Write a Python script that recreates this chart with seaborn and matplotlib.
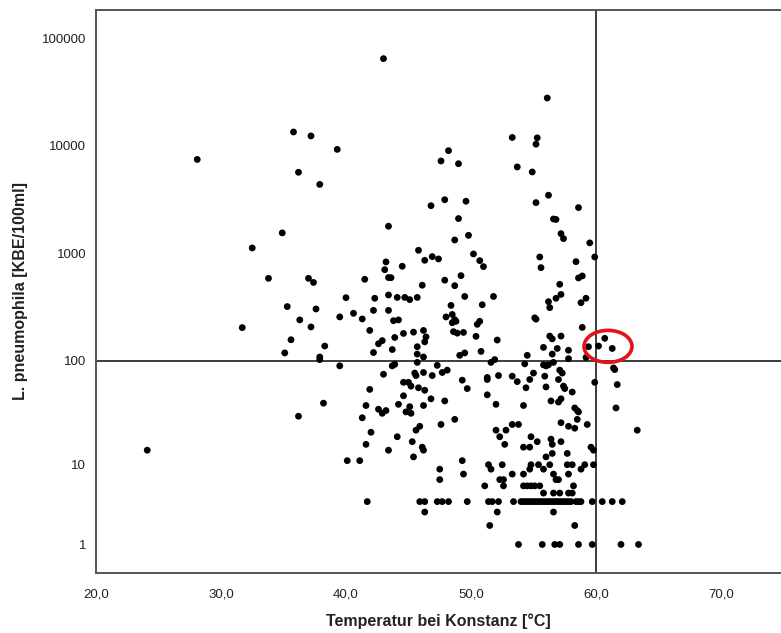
import numpy as np
import pandas as pd
import matplotlib.pyplot as plt
import seaborn as sns
from matplotlib.patches import Ellipse
from matplotlib.ticker import FuncFormatter

# ---------------------------------------------------------
# Daten: Temperatur [°C] und L. pneumophila [KBE/100ml]
# ---------------------------------------------------------

temp_high = [28.1, 35.8, 37.2, 39.3, 36.2, 37.9, 34.9, 32.5, 33.8, 37.0, 37.4, 40.0,
             43.0, 56.1, 53.3, 55.3, 55.2, 48.2, 47.6, 49.0, 53.7, 54.9, 56.2, 55.2,
             46.8, 47.9, 49.6, 58.6, 49.0, 56.6, 56.8, 43.4, 57.2, 57.4, 48.7, 49.8,
             59.5, 45.8, 50.2, 46.9, 47.4, 46.3, 43.2, 55.5, 59.9, 50.7, 51.0, 58.4,
             43.1, 44.5, 55.6, 43.4, 43.6, 41.5, 49.2, 47.9, 46.1, 48.7, 57.1, 58.6,
             58.9]
kbe_high = [7500, 13500, 12400, 9300, 5700, 4400, 1560, 1130, 590, 590, 540, 390,
            64700, 27900, 12000, 11900, 10400, 9050, 7260, 6850, 6390, 5740, 3490, 2980,
            2790, 3170, 3070, 2680, 2120, 2100, 2080, 1800, 1535, 1380, 1340, 1480,
            1260, 1075, 994, 939, 894, 868, 838, 932, 932, 862, 758, 843,
            710, 764, 742, 600, 598, 578, 625, 567, 509, 504, 519, 595,
            621]

temp_left = [35.3, 37.6, 36.3, 39.5, 31.7, 37.2, 35.6, 38.3, 35.1, 37.9, 37.9, 39.5,
             38.2, 36.2, 24.1]
kbe_left = [322, 306, 242, 258, 205, 208, 158, 138, 119, 109, 103, 90,
            40, 30, 14]

temp_40s = [42.3, 43.4, 44.1, 44.7, 45.1, 45.7, 40.6, 41.3, 42.2, 43.4, 43.8, 44.2,
            41.9, 42.9, 42.6, 43.9, 44.6, 45.4, 46.2, 46.4, 46.3, 43.7, 42.2, 45.7,
            45.7, 46.2, 45.7, 43.7, 43.9, 43.0, 45.5, 45.6, 46.2, 41.9, 44.6, 45.0,
            45.2, 45.8, 46.3, 46.8, 44.6, 41.6, 44.2, 45.1, 46.2, 42.6, 42.9, 43.2,
            44.8, 45.2, 41.3, 45.9, 45.6, 42.0, 44.1, 45.3, 41.6, 46.1, 46.2, 43.4,
            45.4, 40.1, 41.1, 41.7, 45.9, 46.3, 46.3]
kbe_40s = [385, 413, 392, 392, 374, 392, 279, 247, 297, 297, 238, 242,
           193, 155, 145, 166, 181, 186, 193, 168, 151, 128, 120, 136,
           116, 109, 97, 90, 93, 75, 77, 73, 78, 54, 63, 63,
           58, 56, 53, 44, 47, 38, 39, 37, 38, 35, 32, 34,
           33, 32, 29, 24, 22, 21, 19, 17, 16, 15, 14, 14,
           12, 11, 11, 4, 4, 4, 3]

temp_50 = [49.5, 51.8, 48.4, 50.9, 48.0, 48.5, 48.7, 48.8, 48.5, 50.5, 50.7, 48.6,
           48.9, 49.4, 50.4, 52.1, 49.1, 49.5, 50.8, 51.6, 51.9, 47.3, 46.9, 47.7,
           48.1, 51.3, 51.3, 52.2, 49.3, 49.7, 47.9, 51.3, 52.0, 48.7, 47.6, 52.0,
           52.8, 52.3, 52.7, 49.3, 47.5, 49.4, 47.5, 51.4, 51.6, 52.5, 52.3, 52.6,
           52.6, 51.1, 47.3, 47.7, 48.2, 49.7, 51.4, 51.7, 52.2, 52.1, 51.5]
kbe_50 = [400, 400, 330, 335, 258, 272, 243, 235, 228, 220, 235, 188,
          182, 185, 170, 157, 113, 119, 123, 97, 103, 91, 73, 78,
          82, 70, 67, 73, 66, 55, 42, 48, 39, 28, 25, 22,
          22, 19, 16, 11, 9, 8, 7, 10, 9, 10, 7, 7,
          6, 6, 4, 4, 4, 4, 4, 4, 4, 3, 2]

temp_55 = [57.2, 56.8, 56.2, 56.3, 55.1, 55.2, 56.3, 56.5, 57.2, 55.8, 56.9, 57.8,
           56.5, 54.5, 54.3, 55.8, 56.0, 56.2, 56.6, 57.8, 53.3, 53.7, 55.0, 54.7,
           55.9, 57.1, 57.3, 57.0, 54.4, 56.0, 57.4, 57.5, 58.1, 56.4, 57.0, 57.2,
           54.2, 53.3, 53.8, 57.2, 57.8, 54.8, 55.3, 56.4, 56.5, 57.2, 54.2, 54.7,
           56.5, 56.0, 57.7, 54.8, 54.7, 55.4, 56.3, 55.8, 57.7, 53.3, 54.2, 56.6,
           56.8, 57.0, 57.8, 54.2, 54.5, 54.8, 55.1, 55.5, 55.8, 56.6, 57.1, 57.8,
           53.4, 54.0, 54.2, 54.4, 54.6, 54.8, 55.0, 55.2, 55.4, 55.6, 55.8, 56.0,
           56.2, 56.4, 56.6, 56.8, 57.0, 57.2, 57.4, 57.6, 57.8, 58.0, 56.6, 53.8,
           55.7, 56.7, 57.1]
kbe_55 = [418, 385, 358, 315, 253, 246, 171, 161, 171, 134, 131, 126,
          116, 113, 94, 92, 90, 92, 97, 105, 72, 64, 77, 67,
          72, 82, 77, 67, 56, 57, 58, 55, 51, 42, 41, 44,
          38, 25, 25, 26, 24, 19, 17, 18, 16, 17, 15, 15,
          13, 12, 13, 10, 9, 10, 10, 9, 10, 8, 8, 8,
          7, 7, 8, 6, 6, 6, 6, 6, 5, 5, 5, 5,
          4, 4, 4, 4, 4, 4, 4, 4, 4, 4, 4, 4,
          4, 4, 4, 4, 4, 4, 4, 4, 4, 4, 3, 1,
          1, 1, 1]

temp_60 = [59.2, 58.8, 58.9, 59.4, 60.2, 60.7, 61.3, 59.2, 61.4, 61.5, 59.9, 61.7,
           58.3, 58.5, 58.6, 61.6, 58.5, 58.3, 59.3, 63.3, 59.6, 59.8, 58.1, 58.8,
           59.1, 59.8, 58.2, 58.1, 58.4, 58.6, 58.8, 59.7, 60.5, 61.3, 62.1, 58.3,
           58.6, 59.7, 62.0, 63.4]
kbe_60 = [385, 350, 206, 136, 138, 163, 131, 108, 86, 83, 63, 60,
          36, 34, 33, 36, 28, 23, 25, 22, 15, 14, 10, 9,
          10, 10, 6, 5, 4, 4, 4, 4, 4, 4, 4, 2,
          1, 1, 1, 1]

x_ticks = [20, 30, 40, 50, 60, 70]
y_ticks = [1, 10, 100, 1000, 10000, 100000]

df = pd.DataFrame({
    "temp": temp_high + temp_left + temp_40s + temp_50 + temp_55 + temp_60,
    "kbe": kbe_high + kbe_left + kbe_40s + kbe_50 + kbe_55 + kbe_60,
})

# ---------------------------------------------------------
# Plot
# ---------------------------------------------------------

sns.set_style("white")
plt.rcParams["font.family"] = ["Liberation Sans", "DejaVu Sans"]

fig = plt.figure(figsize=(7.81, 6.33), dpi=100)
ax = fig.add_axes([0.1229, 0.0948, 0.8771, 0.8894])

# SPSS-artige Log-Achse (log10(x+1))
ax.set_yscale("function", functions=(lambda v: np.log10(np.maximum(v, 0) + 1),
                                     lambda t: 10 ** t - 1))

sns.scatterplot(data=df, x="temp", y="kbe", ax=ax, color="black",
                s=24, edgecolor="none", linewidth=0, zorder=3)

ax.axhline(100, color="#3c3c3c", lw=1.4, zorder=2)
ax.axvline(60, color="#3c3c3c", lw=1.4, zorder=2)

ax.set_xlim(20, 74.8)
ax.set_ylim(0.087, 183000)
ax.set_xticks(x_ticks)
ax.xaxis.set_major_formatter(FuncFormatter(lambda v, p: f"{v:.1f}".replace(".", ",")))
ax.set_yticks(y_ticks)
ax.set_yticklabels([str(t) for t in y_ticks])
ax.minorticks_off()

ax.tick_params(axis="both", direction="out", length=5, width=1.2,
               color="#444444", labelsize=9.5, labelcolor="#222222", pad=2)
ax.tick_params(axis="x", pad=6.5)

for side in ["left", "top", "bottom"]:
    ax.spines[side].set_color("#555555")
    ax.spines[side].set_linewidth(1.4)
ax.spines["right"].set_visible(False)

ax.set_xlabel("Temperatur bei Konstanz [°C]", fontsize=11.5, fontweight="bold",
              color="#222222", labelpad=9)
ax.set_ylabel("L. pneumophila [KBE/100ml]", fontsize=11.5, fontweight="bold",
              color="#222222", labelpad=10)

# roter Kreis um die Punkte knapp ueber 60 °C
fig.canvas.draw()
cx, cy = ax.transData.transform((60.96, 137))
ax.add_patch(Ellipse((cx, cy), 48, 32, transform=None, fill=False,
                     edgecolor="#e3131b", lw=2.6, zorder=4, clip_on=False))

fig.savefig("out.png", dpi=100)
